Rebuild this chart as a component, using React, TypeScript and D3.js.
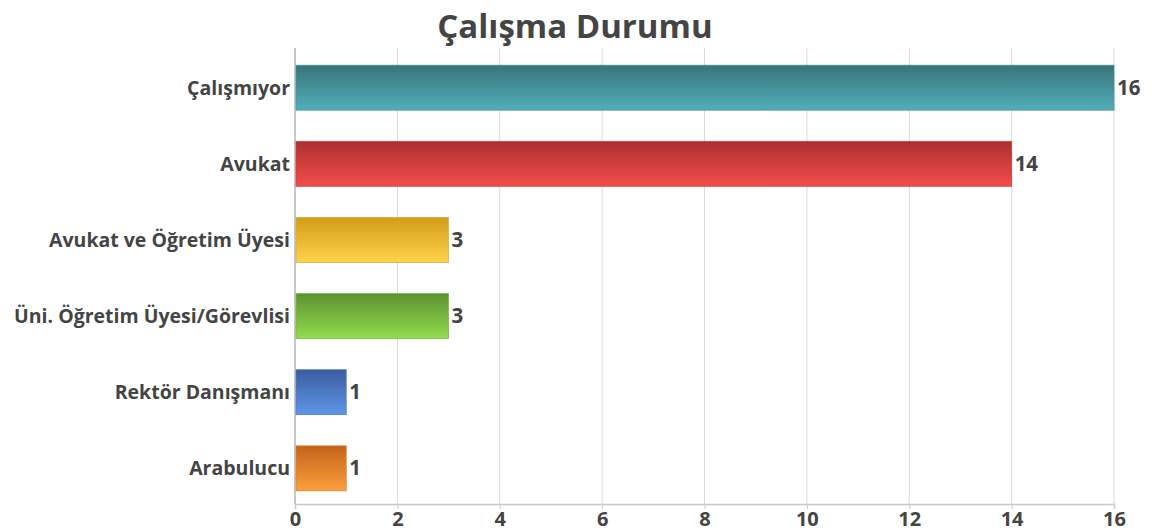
import { useEffect, useRef } from 'react';
import * as d3 from 'd3';

const categories = ['Çalışmıyor', 'Avukat', 'Avukat ve Öğretim Üyesi', 'Üni. Öğretim Üyesi/Görevlisi', 'Rektör Danışmanı', 'Arabulucu'];
const counts = [16, 14, 3, 3, 1, 1];
const topColors = ['#3a747a', '#ab302f', '#d39c17', '#5e9130', '#395d9d', '#c2641a'];
const bottomColors = ['#52aeb9', '#f44d4b', '#fed34b', '#93dc50', '#5f96e8', '#fd9f3d'];
const xTicks = [0, 2, 4, 6, 8, 10, 12, 14, 16];

const W = 1152;
const H = 531;
const FONT = '"Open Sans", "DejaVu Sans", sans-serif';

export default function App() {
  const svgRef = useRef<SVGSVGElement>(null);

  useEffect(() => {
    if (!svgRef.current) return;
    const svg = d3.select(svgRef.current);
    svg.selectAll('*').remove();

    const margin = { top: 48, right: 38, bottom: 27, left: 295 };
    const width = W - margin.left - margin.right;
    const height = H - margin.top - margin.bottom;

    const x = d3.scaleLinear().domain([0, 16]).range([0, width]);
    // bands sit a touch low in the original, so nudge the range down 2px
    const y = d3.scaleBand<string>().domain(categories).range([2, height + 2]).paddingInner(0.41).paddingOuter(0.2);

    // gradients
    const defs = svg.append('defs');
    categories.forEach((_, i) => {
      const g = defs.append('linearGradient')
        .attr('id', `grad${i}`)
        .attr('x1', 0).attr('y1', 0).attr('x2', 0).attr('y2', 1);
      g.append('stop').attr('offset', '0%').attr('stop-color', topColors[i]);
      g.append('stop').attr('offset', '100%').attr('stop-color', bottomColors[i]);
    });

    // title
    svg.append('text')
      .attr('x', 575)
      .attr('y', 38)
      .attr('text-anchor', 'middle')
      .style('font-family', FONT)
      .style('font-weight', 'bold')
      .style('font-size', '33px')
      .attr('fill', '#444')
      .text('Çalışma Durumu');

    const g = svg.append('g').attr('transform', `translate(${margin.left},${margin.top})`);

    // vertical grid
    g.selectAll('line.grid')
      .data(xTicks)
      .enter()
      .append('line')
      .attr('class', 'grid')
      .attr('x1', d => x(d)).attr('x2', d => x(d))
      .attr('y1', 0).attr('y2', height)
      .attr('stroke', '#d9d9d9')
      .attr('stroke-width', 1);

    // left axis line
    g.append('line')
      .attr('x1', 0).attr('x2', 0).attr('y1', 0).attr('y2', height)
      .attr('stroke', '#c8c8c8').attr('stroke-width', 2);

    // bottom axis
    const xAxis = d3.axisBottom(x).tickValues(xTicks).tickSize(5).tickPadding(3);
    const ax = g.append('g')
      .attr('transform', `translate(0,${height})`)
      .call(xAxis);
    ax.select('.domain').attr('stroke', '#c8c8c8').attr('stroke-width', 1.5);
    ax.selectAll('.tick line').attr('stroke', '#c8c8c8');
    ax.selectAll('.tick text')
      .attr('fill', '#444')
      .style('font-family', FONT)
      .style('font-weight', 'bold')
      .style('font-size', '20px');

    // bars
    g.selectAll('rect.bar')
      .data(categories)
      .enter()
      .append('rect')
      .attr('class', 'bar')
      .attr('x', 1)
      .attr('y', d => y(d)!)
      .attr('width', (_, i) => x(counts[i]) - 1)
      .attr('height', y.bandwidth())
      .attr('fill', (_, i) => `url(#grad${i})`)
      .attr('stroke', (_, i) => d3.color(bottomColors[i])!.darker(0.5).formatHex())
      .attr('stroke-width', 0.8);

    // category labels
    g.selectAll('text.cat')
      .data(categories)
      .enter()
      .append('text')
      .attr('class', 'cat')
      .attr('x', -5)
      .attr('y', d => y(d)! + y.bandwidth() / 2)
      .attr('dy', '0.35em')
      .attr('text-anchor', 'end')
      .attr('fill', '#444')
      .style('font-family', FONT)
      .style('font-weight', 'bold')
      .style('font-size', '19.5px')
      .text(d => d);

    // value labels
    g.selectAll('text.val')
      .data(categories)
      .enter()
      .append('text')
      .attr('class', 'val')
      .attr('x', (_, i) => x(counts[i]) + 3)
      .attr('y', d => y(d)! + y.bandwidth() / 2)
      .attr('dy', '0.35em')
      .attr('fill', '#444')
      .style('font-family', FONT)
      .style('font-weight', 'bold')
      .style('font-size', '20.5px')
      .text((_, i) => counts[i]);
  }, []);

  return (
    <svg
      ref={svgRef}
      width={W}
      height={H}
      style={{ position: 'absolute', left: 0, top: 0, background: '#fff' }}
    />
  );
}
